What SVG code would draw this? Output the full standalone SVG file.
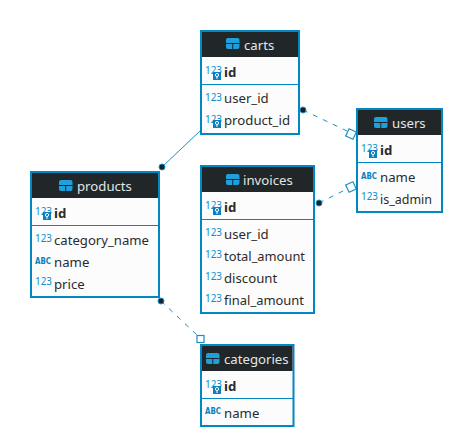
<svg xmlns="http://www.w3.org/2000/svg" xmlns:xlink="http://www.w3.org/1999/xlink" width="453" height="437" viewBox="0 0 453 437">
<style>
.box{fill:#fcfcfc;stroke:#0087c4;stroke-width:2}
.hd{fill:#212628}
.sep{stroke:#0087c4;stroke-width:1}
.title{font:13.2px "Noto Sans",sans-serif;fill:#e4e6e6}
.t{font:13.2px "Noto Sans",sans-serif;fill:#2b2b2b}
.b{font:bold 13.2px "Noto Sans",sans-serif;fill:#2b2b2b}
.n{font:11px "Noto Sans",sans-serif;fill:#0a8fd0}
.a{font:bold 8.500px "DejaVu Sans",sans-serif;fill:#0a80c0}
.c{fill:none;stroke:#1a8fc4;stroke-width:1}
.d{stroke-dasharray:5 6}
.dot{fill:#14222c;stroke:#1a8fc4;stroke-width:1}
.sq{fill:#fff;stroke:#1a8fc4;stroke-width:1.200}
</style>
<defs>
<g id="tbl"><rect x="0" y="0" width="13.500" height="11" rx="2" fill="#1ea0dc"/><path d="M0 5.500H13.500M6.750 5.500V11" stroke="#212628" stroke-width="1"/></g>
<g id="key"><rect x="0" y="0" width="8" height="8" fill="#0a80c0"/><circle cx="4" cy="3" r="1.600" fill="none" stroke="#fff"/><path d="M4 4.500V7" stroke="#fff"/></g>
</defs>
<g id="connectors">
<path class="c" d="M162 167L200 131"/>
<path class="c d" d="M303 110L347 131"/>
<path class="c d" d="M319 203L347 189"/>
<path class="c d" d="M161 301L197 335"/>
<circle class="dot" cx="162" cy="167" r="3"/>
<circle class="dot" cx="303" cy="110" r="3"/>
<circle class="dot" cx="319" cy="203" r="3"/>
<circle class="dot" cx="161" cy="301" r="3"/>
<rect class="sq" x="347" y="130" width="8" height="8" transform="rotate(25 351 134)"/>
<rect class="sq" x="347" y="183" width="8" height="8" transform="rotate(-25 351 187)"/>
<rect class="sq" x="197" y="335.500" width="7" height="7"/>
</g>
<g id="carts">
<rect class="box" x="201" y="31" width="98" height="103"/>
<rect class="hd" x="202" y="32" width="96" height="25"/>
<use xlink:href="#tbl" x="226" y="38"/>
<text class="title" x="244" y="50">carts</text>
<path class="sep" d="M201 84.500H299"/>
<text class="n" x="205" y="74" textLength="17" lengthAdjust="spacingAndGlyphs">123</text><use xlink:href="#key" x="213" y="72"/>
<text class="b" x="224" y="77">id</text>
<text class="n" x="205" y="101" textLength="17" lengthAdjust="spacingAndGlyphs">123</text>
<text class="t" x="224" y="103">user_id</text>
<text class="n" x="205" y="123" textLength="17" lengthAdjust="spacingAndGlyphs">123</text><use xlink:href="#key" x="213" y="120"/>
<text class="t" x="224" y="125" textLength="66" lengthAdjust="spacingAndGlyphs">product_id</text>
</g>
<g id="users">
<rect class="box" x="357" y="109" width="85" height="103"/>
<rect class="hd" x="358" y="110" width="83" height="25"/>
<use xlink:href="#tbl" x="374" y="117"/>
<text class="title" x="392" y="128">users</text>
<path class="sep" d="M357 162.500H442"/>
<text class="n" x="361" y="152" textLength="17" lengthAdjust="spacingAndGlyphs">123</text><use xlink:href="#key" x="369" y="150"/>
<text class="b" x="380" y="155">id</text>
<text class="a" x="361" y="179" textLength="16" lengthAdjust="spacingAndGlyphs">ABC</text>
<text class="t" x="380" y="182">name</text>
<text class="n" x="361" y="200" textLength="17" lengthAdjust="spacingAndGlyphs">123</text>
<text class="t" x="380" y="204" textLength="52" lengthAdjust="spacingAndGlyphs">is_admin</text>
</g>
<g id="products">
<rect class="box" x="31" y="172" width="128" height="125"/>
<rect class="hd" x="32" y="173" width="126" height="25"/>
<use xlink:href="#tbl" x="59" y="180"/>
<text class="title" x="77" y="191">products</text>
<path class="sep" d="M31 225.500H159"/>
<text class="n" x="35" y="215" textLength="17" lengthAdjust="spacingAndGlyphs">123</text><use xlink:href="#key" x="43" y="212"/>
<text class="b" x="54" y="218">id</text>
<text class="n" x="35" y="242" textLength="17" lengthAdjust="spacingAndGlyphs">123</text>
<text class="t" x="54" y="245" textLength="95" lengthAdjust="spacingAndGlyphs">category_name</text>
<text class="a" x="35" y="264" textLength="16" lengthAdjust="spacingAndGlyphs">ABC</text>
<text class="t" x="54" y="267">name</text>
<text class="n" x="35" y="285" textLength="17" lengthAdjust="spacingAndGlyphs">123</text>
<text class="t" x="54" y="289">price</text>
</g>
<g id="invoices">
<rect class="box" x="201" y="166" width="113" height="147"/>
<rect class="hd" x="202" y="167" width="111" height="25"/>
<use xlink:href="#tbl" x="226" y="174"/>
<text class="title" x="243" y="185">invoices</text>
<path class="sep" d="M201 219.500H314"/>
<text class="n" x="205" y="209" textLength="17" lengthAdjust="spacingAndGlyphs">123</text><use xlink:href="#key" x="213" y="207"/>
<text class="b" x="224" y="212">id</text>
<text class="n" x="205" y="236" textLength="17" lengthAdjust="spacingAndGlyphs">123</text>
<text class="t" x="224" y="239">user_id</text>
<text class="n" x="205" y="258" textLength="17" lengthAdjust="spacingAndGlyphs">123</text>
<text class="t" x="224" y="261" textLength="81" lengthAdjust="spacingAndGlyphs">total_amount</text>
<text class="n" x="205" y="280" textLength="17" lengthAdjust="spacingAndGlyphs">123</text>
<text class="t" x="224" y="283">discount</text>
<text class="n" x="205" y="302" textLength="17" lengthAdjust="spacingAndGlyphs">123</text>
<text class="t" x="224" y="305" textLength="80" lengthAdjust="spacingAndGlyphs">final_amount</text>
</g>
<g id="categories">
<rect class="box" x="201" y="345" width="92.500" height="81"/>
<rect class="hd" x="202" y="346" width="90.500" height="25"/>
<use xlink:href="#tbl" x="206" y="353"/>
<text class="title" x="224" y="364">categories</text>
<path class="sep" d="M201 398.500H293.500"/>
<text class="n" x="205" y="388" textLength="17" lengthAdjust="spacingAndGlyphs">123</text><use xlink:href="#key" x="213" y="386"/>
<text class="b" x="224" y="391">id</text>
<text class="a" x="205" y="414" textLength="16" lengthAdjust="spacingAndGlyphs">ABC</text>
<text class="t" x="224" y="418">name</text>
</g>
</svg>
